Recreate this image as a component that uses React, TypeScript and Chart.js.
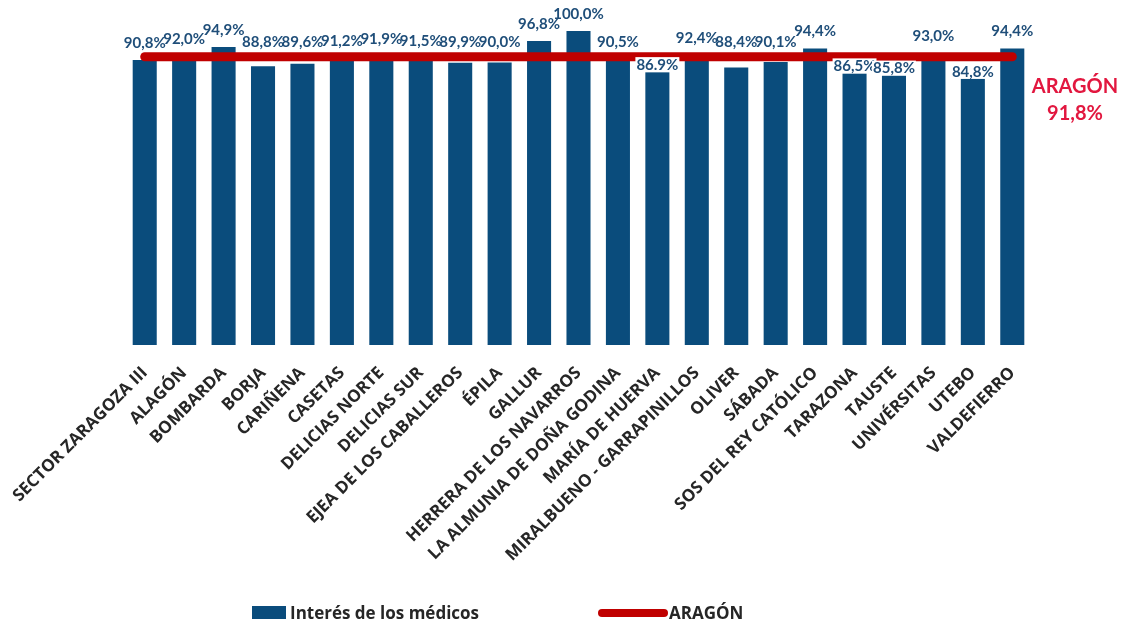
import React, { useEffect, useRef } from "react";
import { Chart, registerables } from "chart.js";

Chart.register(...registerables);

// Centros de salud and the share of patients who perceive doctors' interest
const centros = [
  "SECTOR ZARAGOZA III",
  "ALAGÓN",
  "BOMBARDA",
  "BORJA",
  "CARIÑENA",
  "CASETAS",
  "DELICIAS NORTE",
  "DELICIAS SUR",
  "EJEA DE LOS CABALLEROS",
  "ÉPILA",
  "GALLUR",
  "HERRERA DE LOS NAVARROS",
  "LA ALMUNIA DE DOÑA GODINA",
  "MARÍA DE HUERVA",
  "MIRALBUENO - GARRAPINILLOS",
  "OLIVER",
  "SÁBADA",
  "SOS DEL REY CATÓLICO",
  "TARAZONA",
  "TAUSTE",
  "UNIVÉRSITAS",
  "UTEBO",
  "VALDEFIERRO",
];

const interesMedicos = [
  90.8, 92.0, 94.9, 88.8, 89.6, 91.2, 91.9, 91.5, 89.9, 90.0, 96.8, 100.0,
  90.5, 86.9, 92.4, 88.4, 90.1, 94.4, 86.5, 85.8, 93.0, 84.8, 94.4,
];

const mediaAragon = 91.8;

// This centre's value label is printed with a decimal point
const labelsWithPoint = ["MARÍA DE HUERVA"];

const BAR_COLOR = "#0a4c7c";
const LINE_COLOR = "#c00000";
const LABEL_COLOR = "#1f4e79";
const ARAGON_TEXT = "#e2173f";

const fmt = (v: number, point: boolean) =>
  v.toFixed(1).replace(".", point ? "." : ",") + "%";

const valueLabels = {
  id: "valueLabels",
  afterDatasetsDraw(chart: any) {
    const { ctx } = chart;
    const meta = chart.getDatasetMeta(0);
    const yScale = chart.scales.y;
    const lineY = yScale.getPixelForValue(mediaAragon);
    ctx.save();
    ctx.font = "bold 15px Lato, 'Open Sans', sans-serif";
    ctx.textAlign = "center";
    ctx.textBaseline = "middle";
    meta.data.forEach((bar: any, i: number) => {
      const v = interesMedicos[i];
      const top = bar.y;
      let y = top - 17;
      let below = false;
      if (Math.abs(y - lineY) < 13) {
        if (top > lineY + 14) {
          y = top - 7;
          below = true;
        } else {
          y = lineY - 15;
        }
      }
      const text = fmt(v, labelsWithPoint.includes(centros[i]));
      if (below) {
        const w = ctx.measureText(text).width;
        ctx.fillStyle = "#ffffff";
        ctx.fillRect(bar.x - w / 2 - 1, y - 8, w + 2, 15);
      }
      ctx.fillStyle = LABEL_COLOR;
      ctx.fillText(text, bar.x, y);
    });

    // Regional average callout on the right
    const x = chart.chartArea.right + 43;
    ctx.fillStyle = ARAGON_TEXT;
    ctx.font = "bold 20px Lato, 'Open Sans', sans-serif";
    ctx.fillText("ARAGÓN", x, 87);
    ctx.fillText(fmt(mediaAragon, false), x, 114);
    ctx.restore();
  },
};

export default function App() {
  const canvasRef = useRef<HTMLCanvasElement | null>(null);

  useEffect(() => {
    document.body.style.margin = "0";
    const canvas = canvasRef.current;
    if (!canvas) return;
    const chart = new Chart(canvas, {
      type: "bar",
      data: {
        labels: centros,
        datasets: [
          {
            type: "bar",
            label: "Interés de los médicos",
            data: interesMedicos,
            backgroundColor: BAR_COLOR,
            categoryPercentage: 1,
            barPercentage: 0.61,
            order: 1,
          },
          {
            type: "line",
            label: "ARAGÓN",
            data: centros.map(() => mediaAragon),
            borderColor: LINE_COLOR,
            backgroundColor: LINE_COLOR,
            borderWidth: 9,
            borderCapStyle: "round",
            pointRadius: 0,
            pointHoverRadius: 0,
            order: 0,
          } as any,
        ],
      },
      options: {
        responsive: false,
        animation: false,
        layout: { padding: { left: 125, right: 99, top: 31, bottom: 62 } },
        plugins: {
          legend: { display: false },
          tooltip: { enabled: false },
        },
        scales: {
          x: {
            grid: { display: false },
            border: { display: false },
            afterFit: (scale: any) => {
              scale.height = 220;
            },
            ticks: {
              autoSkip: false,
              maxRotation: 45,
              minRotation: 45,
              padding: 10,
              color: "#262626",
              font: { family: "'Open Sans', sans-serif", size: 17, weight: "bold" },
            },
          },
          y: {
            display: false,
            min: 0,
            max: 100,
          },
        },
      },
      plugins: [valueLabels],
    });
    return () => chart.destroy();
  }, []);

  const legendText: React.CSSProperties = {
    fontFamily: "'Open Sans', sans-serif",
    fontWeight: 700,
    fontSize: 17,
    color: "#262626",
  };

  return (
    <div style={{ position: "relative", width: 1131, height: 627, background: "#fff" }}>
      <canvas ref={canvasRef} width={1131} height={627} style={{ display: "block" }} />
      <div style={{ position: "absolute", left: 252, top: 601, display: "flex", alignItems: "center" }}>
        <span style={{ display: "inline-block", width: 34, height: 13, background: BAR_COLOR, marginRight: 4 }} />
        <span style={legendText}>Interés de los médicos</span>
      </div>
      <div style={{ position: "absolute", left: 598, top: 601, display: "flex", alignItems: "center" }}>
        <span style={{ display: "inline-block", width: 70, height: 8, borderRadius: 4, background: LINE_COLOR, marginRight: 1 }} />
        <span style={legendText}>ARAGÓN</span>
      </div>
    </div>
  );
}
